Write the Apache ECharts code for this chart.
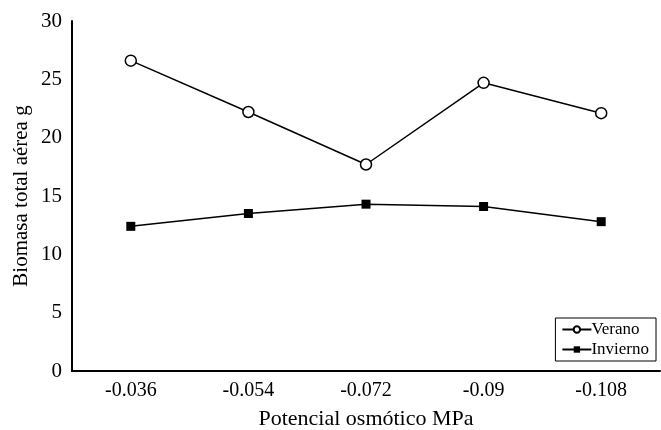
<!DOCTYPE html>
<html><head><meta charset="utf-8">
<script src="https://cdn.jsdelivr.net/npm/echarts@6/dist/echarts.min.js"></script>
<style>html,body{margin:0;padding:0;background:#fff}#c{width:661px;height:430px}</style>
</head><body><div id="c"></div>
<script>
var categories = ['-0.036','-0.054','-0.072','-0.09','-0.108'];
var verano = [26.6, 22.2, 17.7, 24.7, 22.1];
var invierno = [12.4, 13.5, 14.3, 14.1, 12.8];
var yTicks = [0, 5, 10, 15, 20, 25, 30];
var FONT = '"Liberation Serif","Times New Roman",serif';
var chart = echarts.init(document.getElementById('c'), null, {renderer:'canvas'});
chart.setOption({
  animation:false,
  backgroundColor:'#fff',
  grid:{left:72, top:21, right:1, bottom:59, containLabel:false, outerBoundsMode:'none'},
  legend:{
    right:5, top:318, orient:'vertical', itemGap:3, itemWidth:29, itemHeight:8,
    borderColor:'#000', borderWidth:1, padding:[3,7,3,6],
    textStyle:{fontFamily:FONT, fontSize:17, color:'#000', padding:[0,0,0,-5]},
    data:['Verano','Invierno']
  },
  xAxis:{
    type:'category', data:categories, boundaryGap:true,
    name:'Potencial osmótico MPa', nameLocation:'middle', nameGap:37,
    nameTextStyle:{fontFamily:FONT, fontSize:22, color:'#000'},
    axisLine:{lineStyle:{color:'#000', width:2}},
    axisTick:{show:false},
    axisLabel:{fontFamily:FONT, fontSize:20, color:'#000', margin:10}
  },
  yAxis:{
    type:'value', min:yTicks[0], max:yTicks[yTicks.length-1], interval:5,
    name:'Biomasa total aérea g', nameLocation:'middle', nameGap:40, nameMoveOverlap:false,
    nameTextStyle:{fontFamily:FONT, fontSize:21, color:'#000'},
    axisLine:{show:true, lineStyle:{color:'#000', width:2}},
    axisTick:{show:false},
    splitLine:{show:false},
    axisLabel:{fontFamily:FONT, fontSize:21, color:'#000', margin:10}
  },
  series:[
    {name:'Verano', type:'line', data:verano, symbol:'circle', symbolSize:11,
     lineStyle:{color:'#000', width:1.5},
     itemStyle:{color:'#fff', borderColor:'#000', borderWidth:1.5}},
    {name:'Invierno', type:'line', data:invierno, symbol:'rect', symbolSize:9,
     lineStyle:{color:'#000', width:1.5},
     itemStyle:{color:'#000', borderColor:'#000', borderWidth:0}}
  ]
});
</script></body></html>
